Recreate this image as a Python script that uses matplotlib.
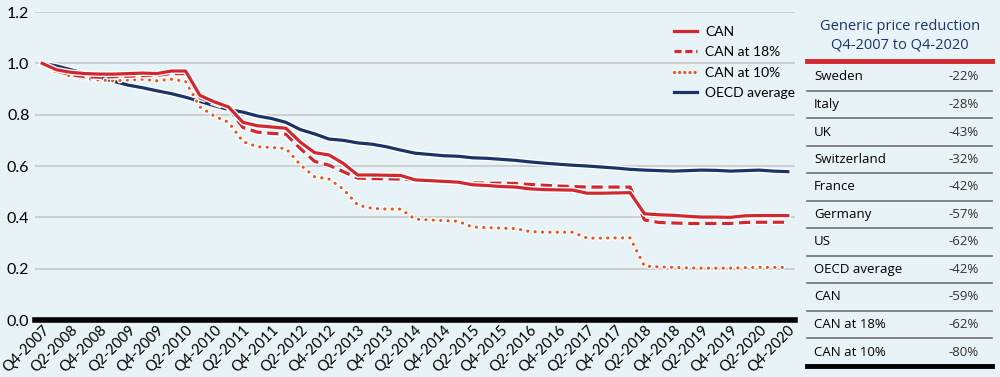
import numpy as np
import matplotlib.pyplot as plt
import matplotlib.patheffects as pe
from matplotlib.lines import Line2D

# Trimestres Q4-2007 -> Q4-2020
quarters = []
for year in range(2007, 2021):
    for q in range(1, 5):
        if year == 2007 and q < 4:
            continue
        quarters.append(f"Q{q}-{year}")

can = [1.0, 0.975, 0.965, 0.96, 0.958, 0.958, 0.96, 0.962, 0.96, 0.97, 0.97,
       0.875, 0.85, 0.83, 0.77, 0.757, 0.752, 0.747, 0.693, 0.652, 0.643, 0.61,
       0.565, 0.565, 0.564, 0.563, 0.546, 0.543, 0.54, 0.537, 0.527, 0.524,
       0.52, 0.518, 0.511, 0.508, 0.507, 0.506, 0.494, 0.494, 0.495, 0.496,
       0.414, 0.41, 0.408, 0.404, 0.401, 0.401, 0.4, 0.406, 0.407, 0.407, 0.407]
can_18 = [1.0, 0.97, 0.955, 0.948, 0.946, 0.948, 0.95, 0.952, 0.953, 0.96, 0.96,
          0.865, 0.845, 0.825, 0.75, 0.732, 0.727, 0.724, 0.668, 0.618, 0.603,
          0.578, 0.553, 0.551, 0.55, 0.549, 0.545, 0.542, 0.538, 0.535, 0.534,
          0.533, 0.533, 0.532, 0.528, 0.525, 0.522, 0.52, 0.518, 0.518, 0.518,
          0.518, 0.39, 0.38, 0.378, 0.376, 0.376, 0.376, 0.376, 0.38, 0.381,
          0.381, 0.381]
can_10 = [1.0, 0.965, 0.95, 0.942, 0.935, 0.932, 0.935, 0.938, 0.932, 0.938, 0.93,
          0.83, 0.795, 0.77, 0.695, 0.675, 0.672, 0.668, 0.605, 0.558, 0.549,
          0.51, 0.448, 0.435, 0.432, 0.432, 0.393, 0.39, 0.387, 0.385, 0.362,
          0.36, 0.358, 0.356, 0.345, 0.342, 0.342, 0.342, 0.319, 0.319, 0.32,
          0.32, 0.21, 0.207, 0.205, 0.203, 0.202, 0.202, 0.202, 0.204, 0.205,
          0.205, 0.205]
oecd = [1.0, 0.99, 0.975, 0.96, 0.945, 0.93, 0.915, 0.905, 0.893, 0.882, 0.868,
        0.852, 0.835, 0.82, 0.81, 0.795, 0.785, 0.77, 0.742, 0.725, 0.705, 0.7,
        0.69, 0.685, 0.675, 0.662, 0.65, 0.645, 0.64, 0.638, 0.632, 0.63, 0.626,
        0.622, 0.616, 0.611, 0.607, 0.603, 0.6, 0.596, 0.592, 0.587, 0.584,
        0.582, 0.58, 0.582, 0.584, 0.583, 0.58, 0.582, 0.584, 0.58, 0.578]

# Tableau de droite
table_names = ["Sweden", "Italy", "UK", "Switzerland", "France", "Germany", "US",
               "OECD average", "CAN", "CAN at 18%", "CAN at 10%"]
table_values = ["-22%", "-28%", "-43%", "-32%", "-42%", "-57%", "-62%",
                "-42%", "-59%", "-62%", "-80%"]

bg = '#e8f3f8'
red = '#d0282e'
orange = '#e8561a'
navy = '#1b3468'

W, H = 1000, 377
fig = plt.figure(figsize=(10, 3.77), dpi=100, facecolor=bg)
ax = fig.add_axes([35 / W, 1 - 320 / H, 760 / W, 308 / H], facecolor=bg)

x = np.arange(len(quarters))
halo = [pe.Stroke(linewidth=4.2, foreground='white'), pe.Normal()]

ax.plot(x, oecd, color=navy, lw=2.3, path_effects=halo, label="OECD average")
ax.plot(x, can_10, color=orange, lw=2.3, linestyle=(0, (0.01, 2.3)),
        dash_capstyle='round', path_effects=halo, label="CAN at 10%")
ax.plot(x, can_18, color=red, lw=2.3, linestyle=(0, (3.5, 1.8)),
        path_effects=halo, label="CAN at 18%")
ax.plot(x, can, color=red, lw=2.3, path_effects=halo, label="CAN")

ax.set_xlim(-0.5, len(quarters) - 0.5)
ax.set_ylim(0, 1.2)
ax.set_yticks(np.arange(0, 1.21, 0.2))
ax.set_yticklabels([f"{v:.1f}" for v in np.arange(0, 1.21, 0.2)],
                   family='Lato', fontsize=11.5)
ax.set_xticks(x[::2])
ax.set_xticklabels(quarters[::2], rotation=45, ha='right', rotation_mode='anchor',
                   family='Lato', fontsize=10.5)
ax.tick_params(length=0, pad=4)
ax.tick_params(axis='x', pad=2)
ax.grid(axis='y', color='#c8c8c8', lw=1.2)
ax.set_axisbelow(True)
for s in ['top', 'right', 'left']:
    ax.spines[s].set_visible(False)
ax.spines['bottom'].set_linewidth(4)
ax.spines['bottom'].set_color('black')
ax.spines['bottom'].set_zorder(5)

handles = [
    Line2D([], [], color=red, lw=2.3),
    Line2D([], [], color=red, lw=2.3, linestyle=(0, (2.2, 1.2))),
    Line2D([], [], color=orange, lw=2.3, linestyle=(0, (0.01, 1.6)), dash_capstyle='round'),
    Line2D([], [], color=navy, lw=2.3),
]
leg = ax.legend(handles, ["CAN", "CAN at 18%", "CAN at 10%", "OECD average"],
                loc='upper right', bbox_to_anchor=(1.0, 0.955), frameon=False,
                borderaxespad=0, borderpad=0,
                handlelength=1.6, handletextpad=0.6, labelspacing=0.6,
                prop={'family': 'Lato', 'size': 10})

# Tableau
def fy(py):
    return 1 - py / H

fig.text(900 / W, fy(27), "Generic price reduction", ha='center', va='center',
         color=navy, family='Open Sans', fontsize=10.5)
fig.text(900 / W, fy(45), "Q4-2007 to Q4-2020", ha='center', va='center',
         color=navy, family='Open Sans', fontsize=10.5)
fig.add_artist(Line2D([807 / W, 992 / W], [fy(61), fy(61)], color=red, lw=3.5))

y0, pitch = 77, 27.5
for k, (name, val) in enumerate(zip(table_names, table_values)):
    yy = y0 + k * pitch
    fig.text(814 / W, fy(yy), name, ha='left', va='center', color='black',
             family='Open Sans', fontsize=9.5)
    fig.text(979 / W, fy(yy), val, ha='right', va='center', color='#333333',
             family='Open Sans', fontsize=9.5)
    sep = yy + 13.5
    if k < len(table_names) - 1:
        fig.add_artist(Line2D([807 / W, 992 / W], [fy(sep), fy(sep)],
                              color='#7a7a7a', lw=1.3))
    else:
        fig.add_artist(Line2D([807 / W, 992 / W], [fy(sep), fy(sep)],
                              color='black', lw=3.5))

plt.savefig("out.png", dpi=100, facecolor=bg)
